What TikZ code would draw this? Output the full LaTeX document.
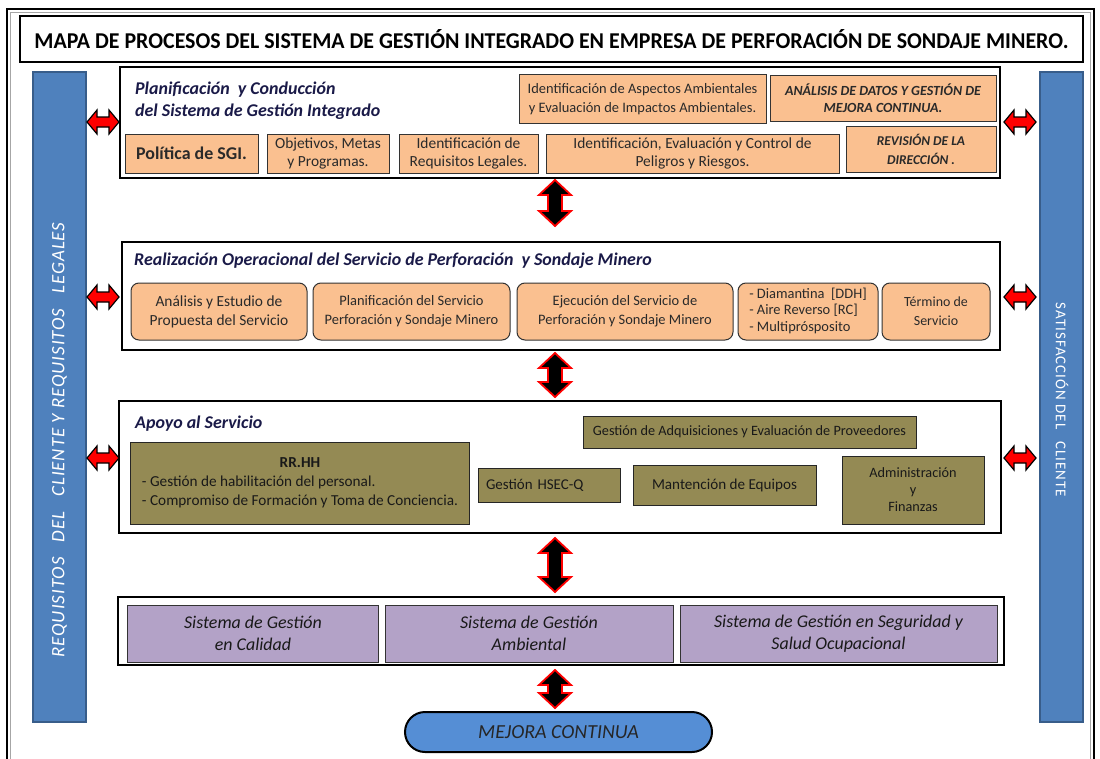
\documentclass[tikz,border=0pt]{standalone}
\usepackage{fontspec}
\setmainfont{Carlito}
\usepackage{graphicx}
\definecolor{orangeF}{HTML}{FAC090}
\definecolor{oliveF}{HTML}{948A54}
\definecolor{purpleF}{HTML}{B3A2C7}
\definecolor{barF}{HTML}{4F81BD}
\definecolor{barD}{HTML}{385D8A}
\definecolor{ovalF}{HTML}{558ED5}
\definecolor{navy}{HTML}{1A1A48}
\definecolor{txt}{HTML}{2A2A2A}
\tikzset{
  sect/.style={draw=black, line width=2.4bp, fill=white, inner sep=0pt, outer sep=0pt},
  obox/.style={draw=black!80, line width=1bp, fill=orangeF, inner sep=0pt, outer sep=0pt, align=center, text=txt, font=\fontsize{15.5}{19}\selectfont},
  rbox/.style={obox, rounded corners=8bp, font=\fontsize{14.5}{19}\selectfont},
  gbox/.style={draw=black!85, line width=1bp, fill=oliveF, inner sep=0pt, outer sep=0pt, align=center, text=black!90, font=\fontsize{15}{18}\selectfont},
  pbox/.style={draw=black!80, line width=1bp, fill=purpleF, inner sep=0pt, outer sep=0pt, align=center, text=black!90, font=\itshape\fontsize{18}{22}\selectfont},
  stitle/.style={anchor=west, align=left, text=navy, font=\bfseries\itshape\fontsize{18}{22}\selectfont, inner sep=0pt},
  bar/.style={draw=barD, line width=1.2bp, fill=barF, inner sep=0pt, outer sep=0pt},
  harrowst/.style={fill=red, draw=black, line width=1.2bp, line join=miter},
  varrowst/.style={fill=black, draw=red, line width=1.8bp, line join=miter},
}
\newcommand\harr[2]{\filldraw[harrowst, shift={(#1,#2)}] (-16,0) -- (-6,-12) -- (-6,-5) -- (6,-5) -- (6,-12) -- (16,0) -- (6,12) -- (6,5) -- (-6,5) -- (-6,12) -- cycle;}
\newcommand\varr[3]{\filldraw[varrowst, shift={(#1,#2)}] (0,-#3) -- (16,-#3+15) -- (7,-#3+15) -- (7,#3-15) -- (16,#3-15) -- (0,#3) -- (-16,#3-15) -- (-7,#3-15) -- (-7,-#3+15) -- (-16,-#3+15) -- cycle;}
\begin{document}
\begin{tikzpicture}[x=1bp,y=-1bp]
\useasboundingbox (0,0) rectangle (1100,759);
\fill[white] (0,0) rectangle (1100,759);
% outer frame
\draw[line width=2.5bp] (7,9) rectangle (1094,800);
\draw[black!35, line width=1.5bp] (10.5,12.5) rectangle (1090.5,800);
% title
\node[draw=black, line width=2.5bp, fill=white, minimum width=1063bp, minimum height=46bp, inner sep=0pt] (title) at (551.5,39)
  {\resizebox{1034bp}{19bp}{\bfseries MAPA DE PROCESOS DEL SISTEMA DE GESTIÓN INTEGRADO EN EMPRESA DE PERFORACIÓN DE SONDAJE MINERO.}};
% side bars
\node[bar, minimum width=53bp, minimum height=650bp] (lbar) at (59.5,397) {};
\node[rotate=90, text=white, font=\itshape\fontsize{19}{19}\selectfont\addfontfeatures{LetterSpace=5}] (ltext) at (59.5,440) {REQUISITOS\hspace{15bp}DEL\hspace{15bp}CLIENTE Y REQUISITOS\hspace{15bp}LEGALES};
\node[bar, minimum width=43bp, minimum height=650bp] (rbar) at (1061.5,397) {};
\node[rotate=-90, text=white, font=\fontsize{15}{15}\selectfont\addfontfeatures{LetterSpace=7}] (rtext) at (1062,400) {SATISFACCIÓN DEL\hspace{12bp}CLIENTE};
% section 1
\node[sect, minimum width=880bp, minimum height=111bp] (s1) at (560,122.5) {};
\node[stitle] (s1t) at (135,101) {Planificación\ \ y Conducción\\del Sistema de Gestión Integrado};
\node[obox, minimum width=133bp, minimum height=39bp, font=\bfseries\fontsize{18}{19}\selectfont] (pol) at (191.5,153.5) {Política de SGI.};
\node[obox, minimum width=122bp, minimum height=39bp] (obj) at (328,153.5) {Objetivos, Metas\\y Programas.};
\node[obox, minimum width=139bp, minimum height=39bp] (req) at (468.5,153.5) {Identificación de\\Requisitos Legales.};
\node[obox, minimum width=293bp, minimum height=39bp] (pel) at (692.5,153.5) {Identificación, Evaluación y Control de\\Peligros y Riesgos.};
\node[obox, minimum width=247bp, minimum height=48bp, font=\fontsize{14.5}{19}\selectfont] (asp) at (642.5,99) {Identificación de Aspectos Ambientales\\y Evaluación de Impactos Ambientales.};
\node[obox, minimum width=226bp, minimum height=45bp, font=\bfseries\itshape\fontsize{14}{17}\selectfont] (ana) at (883,98.5) {ANÁLISIS DE DATOS Y GESTIÓN DE\\MEJORA CONTINUA.};
\node[obox, minimum width=150bp, minimum height=46bp, font=\bfseries\itshape\fontsize{13.5}{19}\selectfont] (rev) at (921,149) {REVISIÓN DE LA\\DIRECCIÓN .};
% section 2
\node[sect, minimum width=878bp, minimum height=108bp] (s2) at (561,296) {};
\node[stitle] (s2t) at (134,261) {Realización Operacional del Servicio de Perforación\ \ y Sondaje Minero};
\node[rbox, minimum width=176bp, minimum height=57bp, font=\fontsize{15.5}{19}\selectfont] (an) at (219,311.5) {Análisis y Estudio de\\Propuesta del Servicio};
\node[rbox, minimum width=197bp, minimum height=57bp] (pl) at (411.5,311.5) {Planificación del Servicio\\Perforación y Sondaje Minero};
\node[rbox, minimum width=216bp, minimum height=57bp] (ej) at (625,311.5) {Ejecución del Servicio de\\Perforación y Sondaje Minero};
\node[rbox, minimum width=140bp, minimum height=57bp, font=\fontsize{14.5}{16.5}\selectfont] (di) at (808,311.5) {\begin{tabular}{@{}l@{}}- Diamantina\ \ [DDH]\\- Aire Reverso [RC]\\- Multiprósposito\end{tabular}};
\node[rbox, minimum width=108bp, minimum height=57bp, font=\fontsize{14}{19}\selectfont] (te) at (936,311.5) {Término de\\Servicio};
% section 3
\node[sect, minimum width=882bp, minimum height=132bp] (s3) at (560,467) {};
\node[stitle] (s3t) at (135,424) {Apoyo al Servicio};
\node[gbox, minimum width=338bp, minimum height=82bp, font=\fontsize{15.3}{19}\selectfont] (rr) at (300,483) {\begin{tabular}{@{}l@{}}\multicolumn{1}{@{}c@{}}{\bfseries RR.HH}\\- Gestión de habilitación del personal.\\- Compromiso de Formación y Toma de Conciencia.\end{tabular}};
\node[gbox, minimum height=34bp, text width=126bp, inner xsep=8bp, align=left] (hs) at (549,485) {Gestión HSEC-Q};
\node[gbox, minimum width=333bp, minimum height=32bp, font=\fontsize{14.3}{18}\selectfont] (adq) at (749.5,432) {Gestión de Adquisiciones y Evaluación de Proveedores};
\node[gbox, minimum width=183bp, minimum height=40bp, font=\fontsize{15.2}{18}\selectfont] (ma) at (724.5,485) {Mantención de Equipos};
\node[gbox, minimum width=142bp, minimum height=68bp, font=\fontsize{14.3}{17}\selectfont] (af) at (913,490) {Administración\\y\\Finanzas};
% section 4
\node[sect, minimum width=886bp, minimum height=68bp] (s4) at (561,631) {};
\node[pbox, minimum width=250bp, minimum height=57bp] (ca) at (253,633.5) {Sistema de Gestión\\en Calidad};
\node[pbox, minimum width=288bp, minimum height=57bp] (am) at (529,633.5) {Sistema de Gestión\\Ambiental};
\node[pbox, minimum width=317bp, minimum height=57bp] (se) at (838.5,633.5) {Sistema de Gestión en Seguridad y\\Salud Ocupacional};
% mejora continua
\node[draw=black, line width=2bp, fill=ovalF, rounded corners=20bp, minimum width=307bp, minimum height=40bp, inner sep=0pt, text=black!85, font=\itshape\fontsize{20}{20}\selectfont] (mc) at (558.5,732) {MEJORA CONTINUA};
% vertical arrows
\varr{555}{203}{23}
\varr{555}{375}{22}
\varr{555}{565}{27}
\varr{555}{689}{19}
% horizontal arrows
\harr{103}{122}
\harr{103}{297}
\harr{103}{458}
\harr{1020}{122}
\harr{1020}{297}
\harr{1020}{458}
\end{tikzpicture}
\end{document}
